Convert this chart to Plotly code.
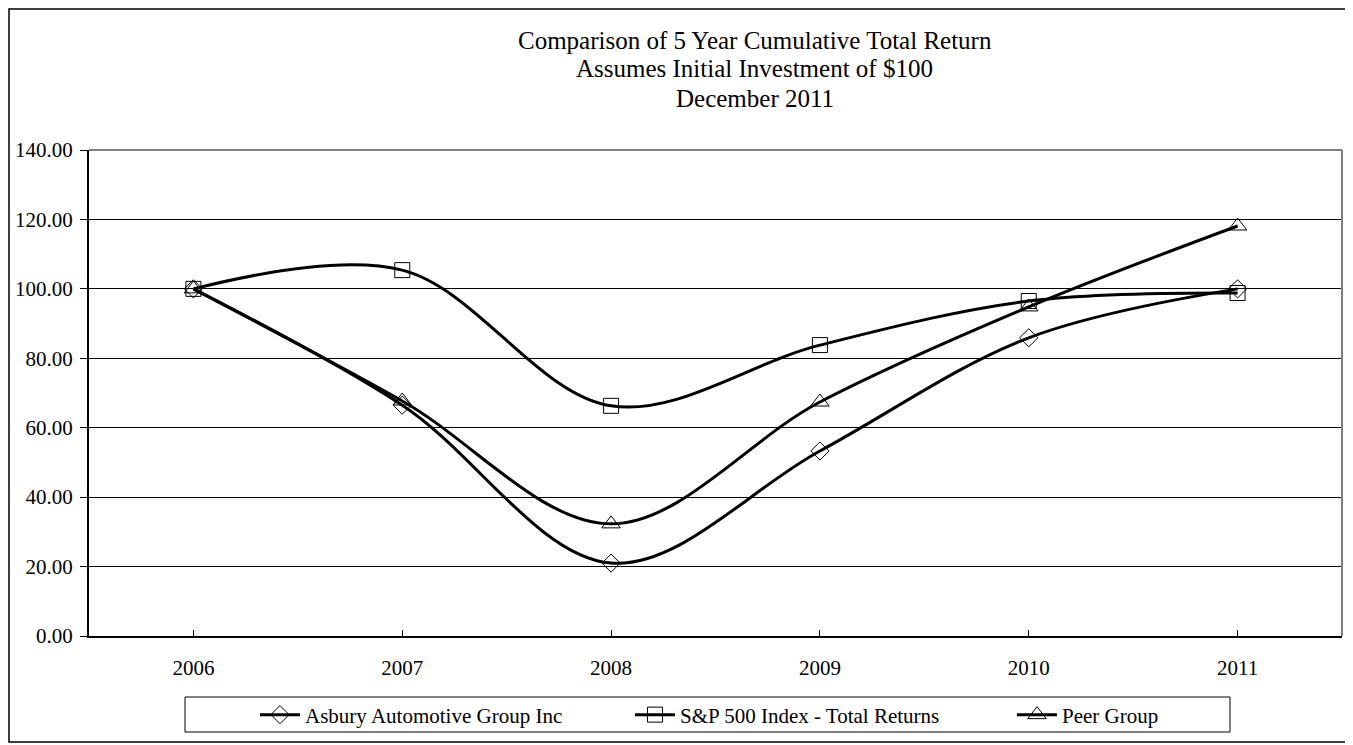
import plotly.graph_objects as go

years = ["2006", "2007", "2008", "2009", "2010", "2011"]
asbury = [100.0, 66.5, 21.0, 53.3, 85.9, 100.0]
sp500 = [100.0, 105.4, 66.3, 83.8, 96.5, 98.8]
peer = [100.0, 67.7, 32.3, 67.4, 94.8, 118.1]
y_ticks = [0, 20, 40, 60, 80, 100, 120, 140]

OFF = 8  # page body margin
W, H = 1353 - OFF, 745 - OFF
# plot area in reference page pixels
RL, RR, RT, RB = 89, 1342, 150, 636
L, R, T, B = RL - OFF, RR - OFF, RT - OFF, RB - OFF
pw, ph = RR - RL, RB - RT


def px(x):
    return (x - RL) / pw


def py(y):
    return (RB - y) / ph


FONT = "Liberation Serif"

fig = go.Figure()
series = [
    ("Asbury Automotive Group Inc", asbury, "diamond-open", 14, "legend", 255),
    ("S&P 500 Index - Total Returns", sp500, "square-open", 15, "legend2", 630),
    ("Peer Group", peer, "triangle-up-open", 16, "legend3", 1012),
]
legends = {}
for name, vals, sym, sz, leg, lx in series:
    fig.add_trace(go.Scatter(
        x=years, y=vals, name=name, mode="lines+markers", legend=leg,
        line=dict(color="black", width=3, shape="spline", smoothing=1),
        marker=dict(symbol=sym, size=sz, color="black", line=dict(color="black", width=1)),
    ))
    legends[leg] = dict(orientation="h", x=px(lx), xanchor="left", y=py(715), yanchor="middle",
                        itemwidth=40, borderwidth=0, bgcolor="rgba(0,0,0,0)",
                        font=dict(family=FONT, size=21, color="black"))

titles = ["Comparison of 5 Year Cumulative Total Return",
          "Assumes Initial Investment of $100",
          "December 2011"]
title_y = [40, 69, 98]
annotations = []
for t, yy in zip(titles, title_y):
    annotations.append(dict(text=t, x=px(755), y=py(yy), xref="paper", yref="paper",
                            xanchor="center", yanchor="middle", showarrow=False,
                            font=dict(family=FONT, size=25, color="black")))

shapes = [
    dict(type="line", xref="paper", yref="paper", x0=0, x1=1, y0=1, y1=1,
         line=dict(color="#808080", width=2)),
    dict(type="line", xref="paper", yref="paper", x0=1, x1=1, y0=0, y1=1,
         line=dict(color="#808080", width=2)),
    dict(type="rect", xref="paper", yref="paper", x0=px(185), x1=px(1230),
         y0=py(732), y1=py(697), line=dict(color="black", width=1)),
    dict(type="rect", xref="paper", yref="paper", x0=px(OFF + 1), x1=px(1350),
         y0=py(742), y1=py(OFF + 1), line=dict(color="black", width=1.5)),
]

fig.update_layout(
    width=W, height=H,
    margin=dict(l=L, r=W - R, t=T, b=H - B, pad=0, autoexpand=False),
    paper_bgcolor="white", plot_bgcolor="white",
    font=dict(family=FONT, size=21, color="black"),
    showlegend=True,
    annotations=annotations,
    shapes=shapes,
    **legends,
)
fig.update_xaxes(type="category", range=[-0.5, 5.5], showgrid=False,
                 showline=True, linecolor="black", linewidth=2,
                 ticks="inside", ticklen=6, tickcolor="black", tickwidth=1,
                 ticklabelstandoff=12, tickfont=dict(family=FONT, size=21, color="black"))
fig.update_yaxes(range=[0, 140], tickvals=y_ticks, tickformat=".2f",
                 showgrid=True, gridcolor="black", gridwidth=1,
                 showline=True, linecolor="black", linewidth=2,
                 ticks="outside", ticklen=7, tickcolor="black", tickwidth=1,
                 ticklabelstandoff=3, zeroline=False,
                 tickfont=dict(family=FONT, size=21, color="black"))

fig.write_html("out.html")
